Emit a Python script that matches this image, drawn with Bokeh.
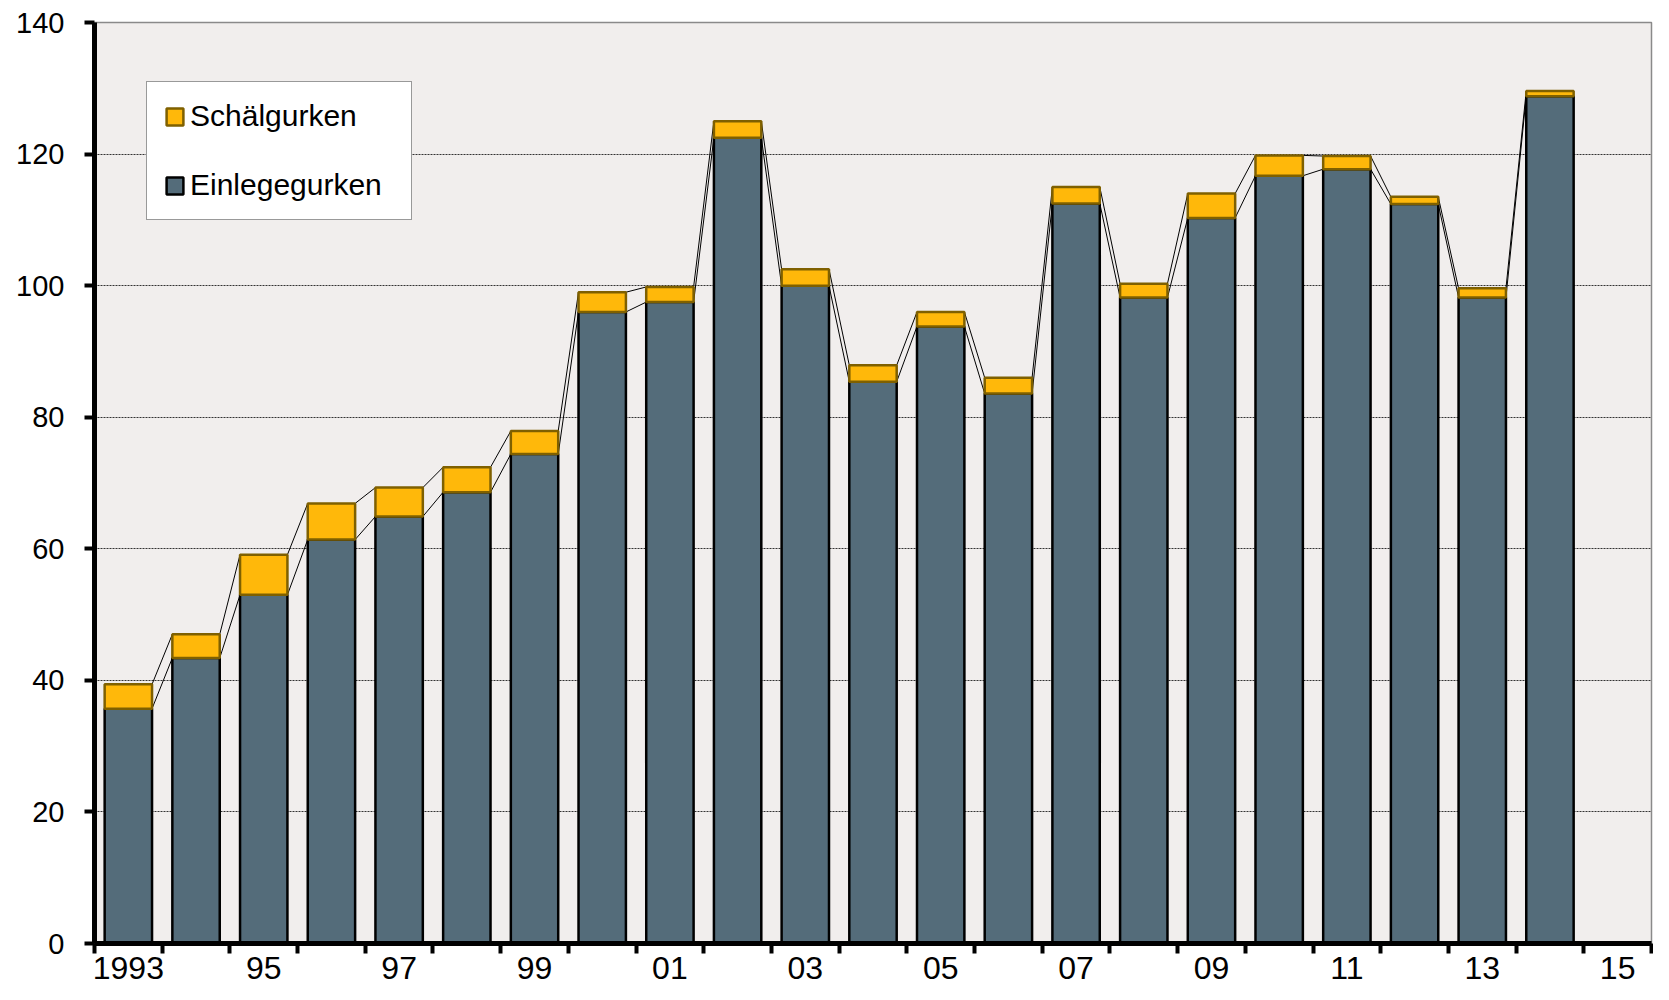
from bokeh.plotting import figure
from bokeh.models import Range1d, FixedTicker, Legend, LegendItem, ColumnDataSource
from bokeh.embed import file_html
from bokeh.resources import INLINE

# ---- data ----
years = list(range(1993, 2015))
einlegegurken = [35.7, 43.4, 53.0, 61.4, 64.9, 68.6, 74.4, 96.0, 97.5, 122.5, 100.0,
                 85.4, 93.8, 83.6, 112.5, 98.2, 110.3, 116.7, 117.7, 112.4, 98.2, 128.8]
schaelgurken = [3.7, 3.6, 6.1, 5.5, 4.4, 3.8, 3.5, 3.0, 2.3, 2.5, 2.5,
                2.5, 2.2, 2.4, 2.5, 2.1, 3.7, 3.1, 2.0, 1.1, 1.4, 0.8]
label_years = [1993, 1995, 1997, 1999, 2001, 2003, 2005, 2007, 2009, 2011, 2013, 2015]
x_tick_labels = ["1993", "95", "97", "99", "01", "03", "05", "07", "09", "11", "13", "15"]
y_ticks = [0, 20, 40, 60, 80, 100, 120, 140]
grid_values = [20, 40, 60, 80, 100, 120]

BAR_W = 0.70
FONT = "Liberation Sans"
C_EIN = "#546C7A"
C_SCH = "#FFB80A"
C_SCH_LINE = "#7F6000"

totals = [e + s for e, s in zip(einlegegurken, schaelgurken)]
src = ColumnDataSource(dict(x=years, ein=einlegegurken, sch=schaelgurken, tot=totals))

p = figure(width=1653, height=984, output_backend="svg", toolbar_location=None,
           x_range=Range1d(years[0] - 0.5, label_years[-1] + 0.5),
           y_range=Range1d(y_ticks[0], y_ticks[-1]))
p.min_border_left = 94
p.min_border_right = 2
p.min_border_top = 22
p.min_border_bottom = 41
p.background_fill_color = "#F1EEED"
p.border_fill_color = "white"
p.outline_line_color = "#8A8A8A"
p.outline_line_width = 1.5

# series lines (connect bar tops)
x0 = [x + BAR_W / 2 for x in years[:-1]]
x1 = [x - BAR_W / 2 for x in years[1:]]
p.segment(x0=x0, y0=einlegegurken[:-1], x1=x1, y1=einlegegurken[1:], line_color="black", line_width=1)
p.segment(x0=x0, y0=totals[:-1], x1=x1, y1=totals[1:], line_color="black", line_width=1)

r_ein = p.vbar(x="x", bottom=0, top="ein", width=BAR_W, source=src,
               fill_color=C_EIN, line_color="black", line_width=2.5)
r_sch = p.vbar(x="x", bottom="ein", top="tot", width=BAR_W, source=src,
               fill_color=C_SCH, line_color=C_SCH_LINE, line_width=2.5)

# grid
p.xgrid.visible = False
p.ygrid.ticker = FixedTicker(ticks=grid_values)
p.ygrid.grid_line_color = "#333333"
p.ygrid.grid_line_dash = "2 1"
p.ygrid.grid_line_width = 1

# y axis
ya = p.yaxis[0]
ya.ticker = FixedTicker(ticks=y_ticks)
ya.axis_line_color = "black"
ya.axis_line_width = 5
ya.major_tick_line_color = "black"
ya.major_tick_line_width = 4
ya.major_tick_in = 0
ya.major_tick_out = 10
ya.minor_tick_line_color = None
ya.major_label_standoff = 20
ya.major_label_text_font = FONT
ya.major_label_text_font_size = "29px"
ya.major_label_text_color = "black"

# x axis
xa = p.xaxis[0]
xa.ticker = FixedTicker(ticks=label_years,
                        minor_ticks=[y - 0.5 for y in years] + [label_years[-1] - 0.5, label_years[-1] + 0.5])
xa.major_label_overrides = {y: t for y, t in zip(label_years, x_tick_labels)}
xa.axis_line_color = "black"
xa.axis_line_width = 5
xa.major_tick_line_color = None
xa.major_tick_in = 0
xa.major_tick_out = 0
xa.minor_tick_line_color = "black"
xa.minor_tick_line_width = 4
xa.minor_tick_in = 0
xa.minor_tick_out = 10
xa.major_label_standoff = 3
xa.major_label_text_font = FONT
xa.major_label_text_font_size = "32px"
xa.major_label_text_color = "black"

legend = Legend(items=[LegendItem(label="Schälgurken", renderers=[r_sch]),
                       LegendItem(label="Einlegegurken", renderers=[r_ein])],
                location=(52, 723), orientation="vertical",
                padding=17, spacing=35, glyph_width=21, glyph_height=21,
                label_standoff=5, label_height=34, label_width=204,
                label_text_font=FONT, label_text_font_size="30px", label_text_color="black",
                background_fill_color="white", background_fill_alpha=1.0,
                border_line_color="#333333", border_line_width=1)
p.add_layout(legend)

open("out.html", "w").write(file_html(p, INLINE))
